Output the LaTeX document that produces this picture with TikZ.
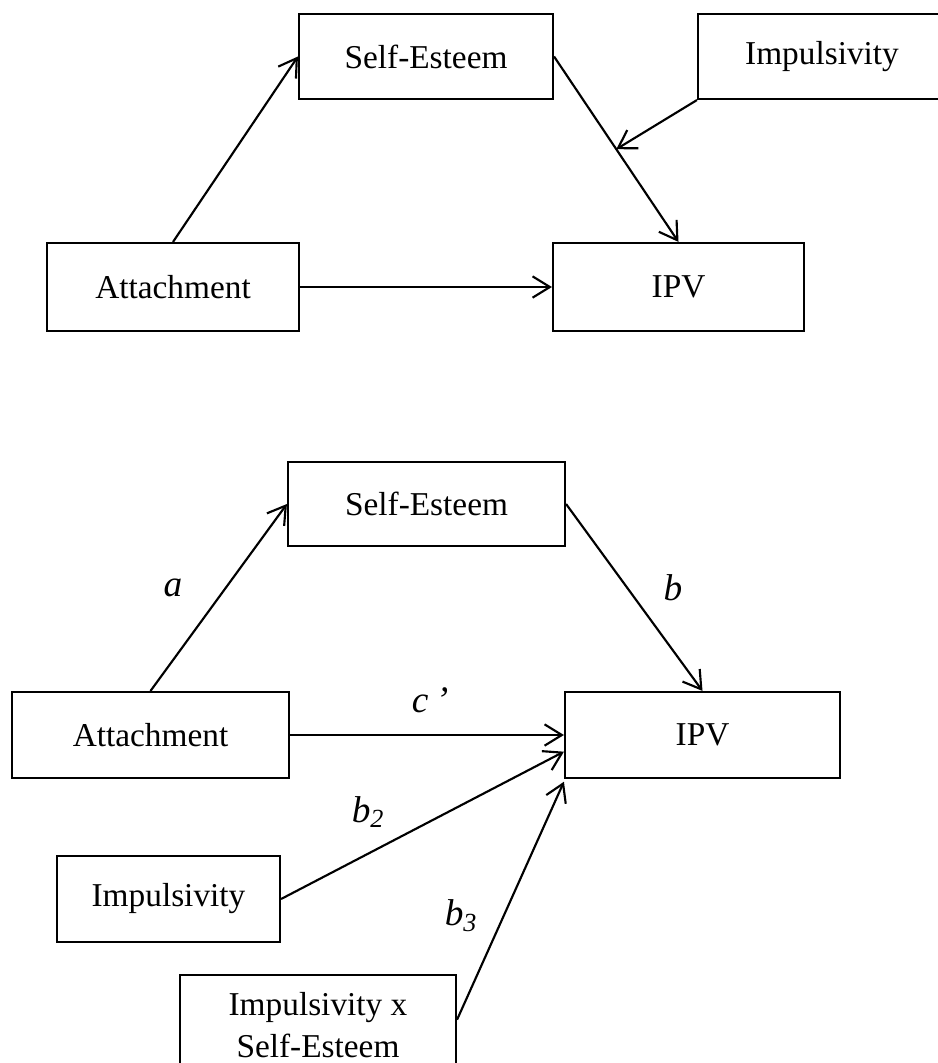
\documentclass[tikz,border=0pt]{standalone}
\usepackage{fontspec}
\setmainfont{Liberation Serif}
\usetikzlibrary{arrows.meta,calc}
\begin{document}
\begin{tikzpicture}[x=0.75pt,y=-0.75pt,
  box/.style 2 args={draw, line width=1.6pt, inner sep=0pt, align=center,
    minimum width=#1*0.75pt, minimum height=#2*0.75pt,
    font=\fontsize{25}{32}\selectfont},
  link/.style={line width=1.6pt, -{Straight Barb[length=13pt,width=16pt]}},
  lab/.style={font=\fontsize{28}{32}\selectfont\itshape, inner sep=0pt}]
\useasboundingbox (0,0) rectangle (938,1063);

% ---- moderated model ----
\node[box={254}{85}] (se1) at (426,56.5) {Self-Esteem};
\node[box={248}{85}] (imp1) at (822,56.5) {Impulsivity};
\node[box={252}{88}] (att1) at (173,287) {Attachment};
\node[box={251}{88}] (ipv1) at (678.5,287) {IPV};

\draw[link] (att1.north) -- (se1.west);
\draw[link] (se1.east) -- (ipv1.north);
\draw[link] (att1.east) -- (ipv1.west);
\coordinate (mod) at ($(se1.east)!0.5!(ipv1.north)$);
\draw[link] (imp1.south west) -- (mod);

% ---- statistical model ----
\node[box={277}{84}] (se2) at (426.5,504) {Self-Esteem};
\node[box={277}{86}] (att2) at (150.5,735) {Attachment};
\node[box={275}{86}] (ipv2) at (702.5,735) {IPV};
\node[box={223}{86}] (imp2) at (168.5,899) {Impulsivity};
\node[box={276}{100}] (int2) at (318,1025) {Impulsivity x\\Self-Esteem};

\coordinate (ipvb2) at ([yshift=-12.5pt]ipv2.west);
\draw[link] (att2.north) -- (se2.west);
\draw[link] (se2.east) -- (ipv2.north);
\draw[link] (att2.east) -- (ipv2.west);
\draw[link] (imp2.east) -- (ipvb2);
\draw[link] ([yshift=4pt]int2.east) -- ([yshift=-2pt]ipv2.south west);

\node[lab] (la) at (173,588) {a};
\node[lab] (lb) at (673,588) {b};
\node[lab] (lc) at (430,700) {c\hspace{0.2em}’};
\node[lab] (lb2) at (368,812) {b\textsubscript{2}};
\node[lab] (lb3) at (461,916) {b\textsubscript{3}};
\end{tikzpicture}
\end{document}
